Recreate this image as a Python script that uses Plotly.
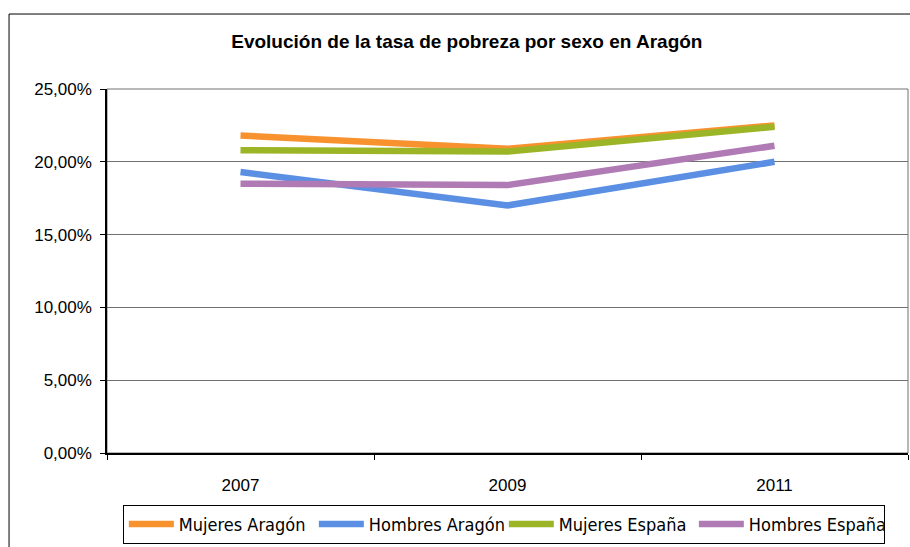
"""
Evolución de la tasa de pobreza por sexo en Aragón - line chart
"""
import plotly.graph_objects as go

# Data (percent)
years = ["2007", "2009", "2011"]
mujeres_aragon = [21.8, 20.9, 22.5]
hombres_aragon = [19.3, 17.0, 20.0]
mujeres_espana = [20.8, 20.7, 22.4]
hombres_espana = [18.5, 18.4, 21.1]

series_names = ["Mujeres Aragón", "Hombres Aragón", "Mujeres España", "Hombres España"]
series_colors = ["#F7922F", "#5B8FE3", "#9BB526", "#B07BB5"]

y_tick_vals = [0, 5, 10, 15, 20, 25]
y_tick_text = ["0,00%", "5,00%", "10,00%", "15,00%", "20,00%", "25,00%"]

TITLE = "Evolución de la tasa de pobreza por sexo en Aragón"
FONT = "Liberation Sans, Arial, sans-serif"
NARROW = "Liberation Sans Narrow, Arial Narrow, DejaVu Sans Condensed, sans-serif"

fig = go.Figure()

# Add one line per series
for name, values, color in zip(series_names,
                               [mujeres_aragon, hombres_aragon, mujeres_espana, hombres_espana],
                               series_colors):
    fig.add_trace(go.Scatter(
        x=years,
        y=values,
        mode='lines',
        name=name,
        line=dict(color=color, width=6.5),
        hovertemplate='%{y:.1f}%<extra>' + name + '</extra>'
    ))

# Outer chart border and plot-area frame
fig.add_shape(type="rect", xref="paper", yref="paper",
              x0=-0.1223, x1=1.0087, y0=-0.30, y1=1.2060,
              line=dict(color="black", width=1), layer="below")
fig.add_shape(type="rect", xref="paper", yref="paper",
              x0=0, x1=1, y0=0, y1=1,
              line=dict(color="#707070", width=1), layer="below")

fig.update_layout(
    width=910,
    height=547,
    margin=dict(l=107, r=2, t=89, b=94, autoexpand=False),
    paper_bgcolor="white",
    plot_bgcolor="white",
    font=dict(family=FONT, color="black", size=17),
    title=dict(
        text="<b>" + TITLE + "</b>",
        x=0.513, xanchor="center", xref="container",
        y=0.924, yanchor="middle", yref="container",
        font=dict(family=FONT, size=19, color="black")
    ),
    showlegend=True,
    legend=dict(
        orientation="h",
        xref="container", yref="container",
        x=0.135, xanchor="left",
        y=0.077, yanchor="top",
        bordercolor="black",
        borderwidth=1,
        font=dict(family=NARROW, size=18, color="black"),
        itemwidth=45,
        entrywidth=130,
        entrywidthmode="pixels",
        tracegroupgap=0,
        traceorder="normal"
    ),
    xaxis=dict(
        type="category",
        range=[-0.5, 2.5],
        showgrid=False,
        showline=True,
        linecolor="black",
        linewidth=1.5,
        ticks="outside",
        tickson="boundaries",
        ticklen=5,
        tickcolor="black",
        ticklabelstandoff=16,
        tickfont=dict(family=FONT, size=17),
        fixedrange=True
    ),
    yaxis=dict(
        range=[0, 25],
        tickvals=y_tick_vals,
        ticktext=y_tick_text,
        showgrid=True,
        gridcolor="#707070",
        gridwidth=1,
        zeroline=False,
        showline=True,
        linecolor="black",
        linewidth=1.5,
        ticks="outside",
        ticklen=5,
        tickcolor="black",
        ticklabelstandoff=5,
        tickfont=dict(family=FONT, size=17),
        fixedrange=True
    ),
)

# Drop the default page margin so the figure sits at the window's top-left corner
fig.write_html("out.html",
               config={"displayModeBar": False},
               post_script="document.body.style.margin='0';")
